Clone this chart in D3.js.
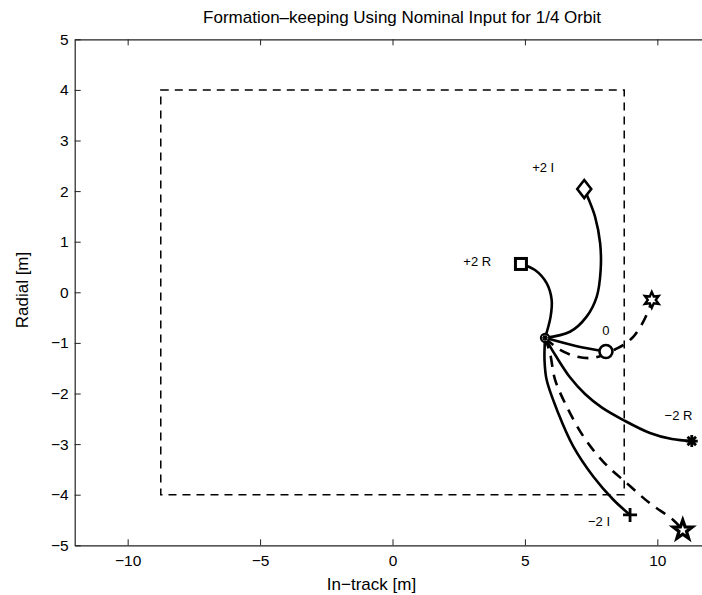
<!DOCTYPE html>
<html>
<head>
<meta charset="utf-8">
<script src="https://cdn.jsdelivr.net/npm/d3@7"></script>
<style>
  html, body { margin: 0; padding: 0; background: #fff; }
  svg { display: block; font-family: "Liberation Sans", Arial, Helvetica, sans-serif; }
</style>
</head>
<body>
<svg id="chart" width="702" height="595"></svg>
<script>
// Axis limits and ticks
const xDomain = [-12, 12];
const yDomain = [-5, 5];
const xTicks = [-10, -5, 0, 5, 10];
const yTicks = [-5, -4, -3, -2, -1, 0, 1, 2, 3, 4, 5];

// Formation box (allowed region)
const boxX = [-8.75, 8.75];
const boxY = [-4, 4];

// Common starting point of all trajectories
const hub = [5.76, -0.9];

// Trajectories (in-track, radial) after 1/4 orbit
const trajSquare = [[5.76, -0.9], [5.97, -0.48], [6.01, -0.15], [5.82, 0.18], [5.38, 0.44], [4.85, 0.56]];
const trajDiamond = [[5.76, -0.9], [6.70, -0.78], [7.33, -0.48], [7.71, -0.09], [7.86, 0.44], [7.84, 0.97], [7.65, 1.49], [7.39, 1.86], [7.24, 2.04]];
const trajCircle = [[5.76, -0.9], [6.92, -1.06], [8.06, -1.17]];
const trajHexagram = [[5.76, -0.9], [6.33, -1.14], [6.96, -1.27], [7.52, -1.30], [7.96, -1.24], [8.40, -1.13], [8.72, -1.04], [9.09, -0.88], [9.47, -0.58], [9.72, -0.28], [9.79, -0.15]];
const trajAsterisk = [[5.76, -0.9], [6.17, -1.26], [6.70, -1.68], [7.27, -2.01], [7.91, -2.28], [8.70, -2.52], [9.72, -2.78], [10.55, -2.90], [11.30, -2.94]];
const trajPlus = [[5.76, -0.9], [5.74, -1.34], [5.82, -1.73], [6.26, -2.39], [6.83, -3.05], [7.58, -3.64], [8.34, -4.10], [8.97, -4.40]];
const trajPentagram = [[5.76, -0.9], [5.95, -1.21], [6.14, -1.73], [6.58, -2.26], [7.21, -2.85], [7.96, -3.35], [8.84, -3.77], [9.72, -4.17], [10.60, -4.50], [10.96, -4.70]];

// Case labels and their anchor positions (data units)
const caseLabels = ["+2 R", "+2 I", "0", "\u22122 R", "\u22122 I"];
const caseLabelPos = [[3.2, 0.58], [5.69, 2.45], [8.06, -0.77], [10.8, -2.46], [7.8, -4.56]];

const svg = d3.select("#chart");
const margin = { left: 74.7, top: 39.3, right: 710.3, bottom: 545.3 };

const x = d3.scaleLinear().domain(xDomain).range([margin.left, margin.right]);
const y = d3.scaleLinear().domain(yDomain).range([margin.bottom, margin.top]);

const fmt = d => (d < 0 ? "\u2212" + Math.abs(d) : String(d));

// Axes frame
const axisColor = "#222";
const axisG = svg.append("g");
axisG.append("g")
  .attr("transform", `translate(0,${margin.bottom})`)
  .call(d3.axisBottom(x).tickValues(xTicks).tickFormat(fmt).tickSizeInner(-6).tickSizeOuter(0).tickPadding(10));
axisG.append("g")
  .attr("transform", `translate(0,${margin.top})`)
  .call(d3.axisTop(x).tickValues(xTicks).tickFormat("").tickSizeInner(-6).tickSizeOuter(0));
axisG.append("g")
  .attr("transform", `translate(${margin.left},0)`)
  .call(d3.axisLeft(y).tickValues(yTicks).tickFormat(fmt).tickSizeInner(-6).tickSizeOuter(0).tickPadding(6));
axisG.selectAll("path.domain").attr("stroke", axisColor).attr("stroke-width", 1.2);
axisG.selectAll(".tick line").attr("stroke", axisColor).attr("stroke-width", 1);
axisG.selectAll(".tick text").attr("fill", "#000").style("font-size", "15.5px")
  .style("font-family", "'Liberation Sans', Arial, sans-serif");

// Title and axis labels
svg.append("text")
  .attr("x", 402).attr("y", 23)
  .attr("text-anchor", "middle")
  .style("font-size", "17px")
  .text("Formation\u2013keeping Using Nominal Input for 1/4 Orbit");
svg.append("text")
  .attr("x", 371.5).attr("y", 590)
  .attr("text-anchor", "middle")
  .style("font-size", "17px")
  .text("In\u2212track [m]");
svg.append("text")
  .attr("transform", `translate(28,290) rotate(-90)`)
  .attr("text-anchor", "middle")
  .style("font-size", "17px")
  .text("Radial [m]");

// Dashed formation box
svg.append("rect")
  .attr("x", x(boxX[0])).attr("y", y(boxY[1]))
  .attr("width", x(boxX[1]) - x(boxX[0]))
  .attr("height", y(boxY[0]) - y(boxY[1]))
  .attr("fill", "none").attr("stroke", "#000")
  .attr("stroke-width", 1.5).attr("stroke-dasharray", "8,6");

// Trajectories
const line = d3.line().x(d => x(d[0])).y(d => y(d[1])).curve(d3.curveCatmullRom.alpha(0.5));
const trajectories = [
  { pts: trajSquare, dash: null },
  { pts: trajDiamond, dash: null },
  { pts: trajCircle, dash: null },
  { pts: trajAsterisk, dash: null },
  { pts: trajPlus, dash: null },
  { pts: trajHexagram, dash: "11,8" },
  { pts: trajPentagram, dash: "11,8" }
];
svg.append("g").selectAll("path").data(trajectories).join("path")
  .attr("d", d => line(d.pts))
  .attr("fill", "none").attr("stroke", "#000")
  .attr("stroke-width", 2.6)
  .attr("stroke-dasharray", d => d.dash);

// Markers at trajectory ends
const mk = svg.append("g").attr("fill", "#fff").attr("stroke", "#000").attr("stroke-width", 2.6);
const last = a => a[a.length - 1];

// square
{ const p = last(trajSquare); mk.append("rect").attr("x", x(p[0]) - 5.5).attr("y", y(p[1]) - 5.5).attr("width", 11).attr("height", 11).attr("stroke-width", 3); }
// diamond
{ const p = last(trajDiamond); const cx = x(p[0]), cy = y(p[1]);
  mk.append("path").attr("d", `M${cx},${cy - 9}L${cx + 7},${cy}L${cx},${cy + 9}L${cx - 7},${cy}Z`); }
// circle
{ const p = last(trajCircle); mk.append("circle").attr("cx", x(p[0])).attr("cy", y(p[1])).attr("r", 6.5); }
// hexagram
{ const p = last(trajHexagram); const cx = x(p[0]), cy = y(p[1]);
  const pts = d3.range(12).map(i => { const a = -Math.PI / 2 + i * Math.PI / 6; const r = i % 2 ? 4 : 8; return [cx + r * Math.cos(a), cy + r * Math.sin(a)]; });
  mk.append("path").attr("d", "M" + pts.join("L") + "Z").attr("stroke-width", 2.4); }
// asterisk
{ const p = last(trajAsterisk); const cx = x(p[0]), cy = y(p[1]);
  const d = d3.range(4).map(i => { const a = i * Math.PI / 4; const r = 6; return `M${cx - r * Math.cos(a)},${cy - r * Math.sin(a)}L${cx + r * Math.cos(a)},${cy + r * Math.sin(a)}`; }).join("");
  mk.append("path").attr("d", d).attr("stroke-width", 2.8); }
// plus
{ const p = last(trajPlus); const cx = x(p[0]), cy = y(p[1]);
  mk.append("path").attr("d", `M${cx - 7},${cy}L${cx + 7},${cy}M${cx},${cy - 7}L${cx},${cy + 7}`).attr("stroke-width", 2.8); }
// pentagram
{ const p = last(trajPentagram); const cx = x(p[0]), cy = y(p[1]);
  const pts = d3.range(10).map(i => { const a = -Math.PI / 2 + i * Math.PI / 5; const r = i % 2 ? 4 : 10; return [cx + r * Math.cos(a), cy + r * Math.sin(a)]; });
  mk.append("path").attr("d", "M" + pts.join("L") + "Z").attr("stroke-width", 3.2); }
// start point (overlapping start markers)
{ const cx = x(hub[0]), cy = y(hub[1]);
  mk.append("circle").attr("cx", cx).attr("cy", cy).attr("r", 4.2).attr("stroke-width", 2);
  const d = d3.range(4).map(i => { const a = i * Math.PI / 4; const r = 3.5; return `M${cx - r * Math.cos(a)},${cy - r * Math.sin(a)}L${cx + r * Math.cos(a)},${cy + r * Math.sin(a)}`; }).join("");
  mk.append("path").attr("d", d).attr("stroke-width", 1.4); }

// Case labels
svg.append("g").selectAll("text").data(caseLabels).join("text")
  .attr("x", (d, i) => x(caseLabelPos[i][0]))
  .attr("y", (d, i) => y(caseLabelPos[i][1]))
  .attr("text-anchor", "middle")
  .attr("dominant-baseline", "middle")
  .style("font-size", "13px")
  .text(d => d);
</script>
</body>
</html>
